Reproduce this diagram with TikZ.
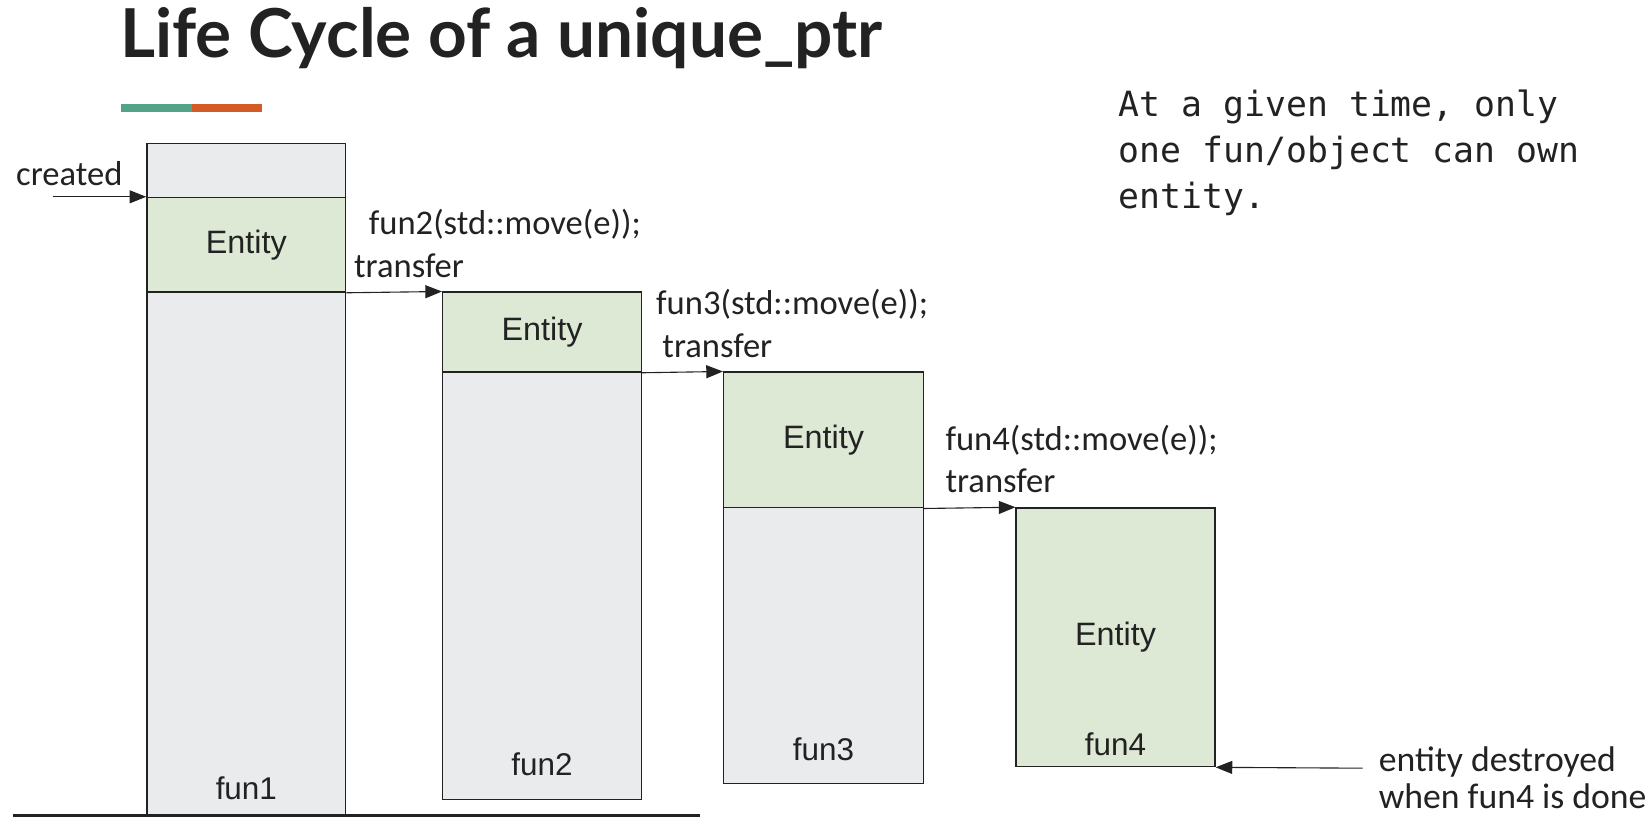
\documentclass[tikz,border=0pt]{standalone}
\usepackage{fontspec}
\setmainfont{Liberation Sans}
\newfontfamily\calibri{Carlito}
\newfontfamily\titlefont{Lato}
\setmonofont{DejaVu Sans Mono}
\usetikzlibrary{arrows.meta,positioning}
\definecolor{boxgray}{HTML}{E9EBEC}
\definecolor{entgreen}{HTML}{DDE9D5}
\definecolor{barteal}{HTML}{52A387}
\definecolor{barorange}{HTML}{D35B28}
\definecolor{ink}{HTML}{222222}
\tikzset{
  stackbox/.style={draw=ink, line width=0.7pt, fill=boxgray, anchor=north west,
    minimum width=3.78cm, inner sep=0pt, font=\fontsize{17.5}{20}\selectfont, text=ink},
  entbox/.style={stackbox, fill=entgreen},
  funname/.style={font=\fontsize{17}{20}\selectfont, text=ink},
  callnote/.style={font=\calibri\fontsize{18.7}{22}\selectfont, text=ink, anchor=west, inner sep=0pt},
  arr/.style={-{Triangle[length=9pt,width=7pt]}, line width=0.6pt, draw=ink}
}
\begin{document}
\begin{tikzpicture}[x=0.02cm,y=-0.02cm]
\useasboundingbox (0,0) rectangle (1568,779);
% title and bar
\node[anchor=base west, inner sep=0pt, font=\titlefont\bfseries\fontsize{36.5}{40}\selectfont, text=ink] (title) at (114,55) {Life Cycle of a unique\_ptr};
\fill[barteal] (115,99) rectangle (182,106);
\fill[barorange] (182,99) rectangle (249,106);
% stack frames
\node[stackbox, minimum height=12.78cm] (fun1) at (139,136) {};
\node[entbox, minimum height=1.8cm] (ent1) at (139,187) {Entity};
\node[stackbox, minimum height=9.64cm] (fun2) at (420,277) {};
\node[entbox, minimum height=1.52cm] (ent2) at (420,277) {Entity};
\node[stackbox, minimum width=3.8cm, minimum height=7.82cm] (fun3) at (687,353) {};
\node[entbox, minimum width=3.8cm, minimum height=2.58cm] (ent3) at (687,353) {Entity};
\node[entbox, minimum height=4.92cm] (fun4) at (965,482) {Entity};
\node[funname] (lbl1) at ([yshift=0.54cm]fun1.south) {fun1};
\node[funname] (lbl2) at ([yshift=0.68cm]fun2.south) {fun2};
\node[funname] (lbl3) at ([yshift=0.66cm]fun3.south) {fun3};
\node[funname] (lbl4) at ([yshift=0.44cm]fun4.south) {fun4};
\draw[line width=1.7pt, draw=ink] (12,775) coordinate (floorL) -- (665,775) coordinate (floorR);
% created
\coordinate (newptr) at (50,187);
\node[callnote] (created) at (15,165) {created};
\draw[arr] (newptr) -- (ent1.north west);
% transfers
\foreach \a/\b/\n/\dx/\dt in {ent1/fun2/2/0.42/0.14,ent2/fun3/3/0.26/0.38,ent3/fun4/4/0.4/0.4}{
\draw[arr] (\a.south east) -- (\b.north west);
\node[callnote] (call\n) at ([xshift=\dx cm,yshift=1.3cm]\a.south east) {fun\n(std::move(e));};
\node[callnote] (move\n) at ([xshift=\dt cm,yshift=0.52cm]\a.south east) {transfer};
}
% destroyed
\coordinate (doneptr) at (1295,730);
\draw[arr] (doneptr) -- (fun4.south east);
\node[anchor=north west, align=left, inner sep=0pt, font=\calibri\fontsize{19.3}{20}\selectfont, text=ink] (gone) at (1310,709) {entity destroyed\\when fun4 is done};
% note
\node[anchor=north west, align=left, inner sep=0pt, font=\ttfamily\fontsize{18.8}{25}\selectfont, text=ink] (note) at (1063,85) {At a given time, only\\one fun/object can own\\entity.};
\end{tikzpicture}
\end{document}
